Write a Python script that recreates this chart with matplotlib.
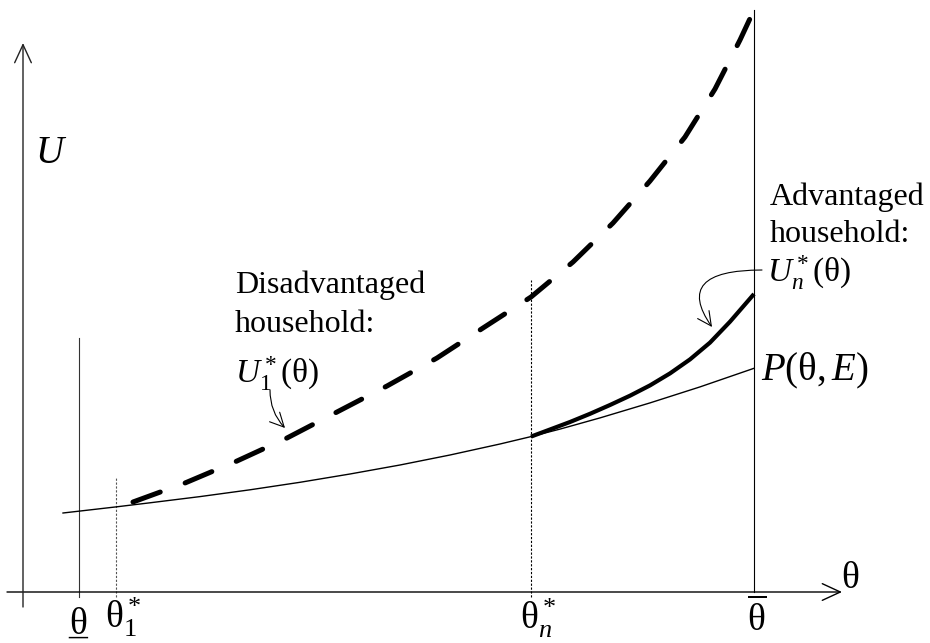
import matplotlib
matplotlib.use('Agg')
import matplotlib.pyplot as plt

plt.rcParams['font.family'] = 'Liberation Serif'
plt.rcParams['mathtext.fontset'] = 'custom'
plt.rcParams['mathtext.rm'] = 'Liberation Serif'
plt.rcParams['mathtext.it'] = 'Liberation Serif:italic'
plt.rcParams['mathtext.bf'] = 'Liberation Serif:bold'

# P(theta, E) - thin line
theta_P = [0.40, 0.93, 1.27, 1.77, 2.27, 2.77, 3.27, 3.77, 4.27, 4.77,
           5.08, 5.37, 5.77, 6.27, 6.77, 7.31]
U_P = [0.79, 0.851, 0.892, 0.954, 1.022, 1.097, 1.180, 1.270, 1.370, 1.480,
       1.554, 1.629, 1.741, 1.891, 2.051, 2.237]

# advantaged household U_n*(theta) - thick solid
theta_n = [5.08, 5.27, 5.47, 5.67, 5.87, 6.07, 6.27, 6.47, 6.67, 6.87,
           7.07, 7.31]
U_n = [1.554, 1.625, 1.70, 1.782, 1.87, 1.963, 2.066, 2.186, 2.326, 2.494,
       2.703, 2.98]

# disadvantaged household U_1*(theta) - thick dashed
theta_1 = [1.10, 1.62, 2.14, 2.64, 3.14, 3.64, 4.14, 4.60, 5.08, 5.50,
           5.90, 6.27, 6.62, 6.92, 7.17, 7.31]
U_1 = [0.90, 1.09, 1.31, 1.54, 1.80, 2.06, 2.34, 2.64, 2.95, 3.30,
       3.69, 4.11, 4.55, 5.03, 5.52, 5.82]

# positions on the theta axis
theta_lo, theta_1s, theta_ns, theta_hi = 0.56, 0.93, 5.08, 7.31

fig = plt.figure(figsize=(9.3, 6.43), dpi=100)
ax = fig.add_axes([0, 0, 1, 1])
ax.set_xlim(-0.23, 9.07)
ax.set_ylim(-0.51, 5.92)
ax.axis('off')

# axes with open arrow heads
head = '->,head_length=1.3,head_width=0.6'
ax.annotate('', xy=(8.19, 0), xytext=(-0.16, 0),
            arrowprops=dict(arrowstyle=head, lw=1.0, color='black',
                            shrinkA=0, shrinkB=0, mutation_scale=10))
ax.annotate('', xy=(0, 5.49), xytext=(0, -0.15),
            arrowprops=dict(arrowstyle=head, lw=1.0, color='#222222',
                            shrinkA=0, shrinkB=0, mutation_scale=10))

# vertical markers
ax.plot([theta_lo, theta_lo], [-0.05, 2.54], color='#333333', lw=0.8)
ax.plot([theta_1s, theta_1s], [-0.05, 1.15], color='#555555', lw=0.8,
        linestyle=(0, (2, 1.5)))
ax.plot([theta_ns, theta_ns], [-0.05, 3.12], color='black', lw=0.8,
        linestyle=(0, (2, 1.5)))
ax.plot([theta_hi, theta_hi], [0, U_1[-1]], color='black', lw=0.8)

# curves
ax.plot(theta_P, U_P, color='black', lw=1.0)
ax.plot(theta_n, U_n, color='black', lw=3.0, solid_capstyle='butt')
ax.plot(theta_1, U_1, color='black', lw=3.6, dashes=(5.8, 5.3),
        dash_capstyle='round')

# tick labels
ax.text(theta_lo - 0.01, -0.42, 'θ', ha='center', va='baseline', fontsize=27)
ax.text(theta_lo - 0.01, -0.42, '_', ha='center', va='baseline', fontsize=27)
ax.text(0.82, -0.36, r'$\mathrm{\theta}_1^*$', ha='left', va='baseline', fontsize=27)
ax.text(4.97, -0.37, r'$\mathrm{\theta}_n^*$', ha='left', va='baseline', fontsize=27)
ax.text(theta_hi + 0.03, -0.39, r'$\overline{\mathrm{\theta}}$', ha='center',
        va='baseline', fontsize=27)
ax.text(8.18, 0.04, 'θ', ha='left', va='baseline', fontsize=27)
ax.text(0.12, 4.29, r'$U$', ha='left', va='baseline', fontsize=28)

# annotations
ax.text(2.12, 2.99, 'Disadvantaged', ha='left', va='baseline', fontsize=23)
ax.text(2.12, 2.60, 'household:', ha='left', va='baseline', fontsize=23)
ax.text(2.12, 2.09, r'$U_1^*(\mathrm{\theta})$', ha='left', va='baseline', fontsize=24)

ax.text(7.47, 3.87, 'Advantaged', ha='left', va='baseline', fontsize=23)
ax.text(7.47, 3.50, 'household:', ha='left', va='baseline', fontsize=23)
ax.text(7.44, 3.10, r'$U_n^*(\mathrm{\theta})$', ha='left', va='baseline', fontsize=24)

ax.text(7.38, 2.12, r'$P(\mathrm{\theta},E)$', ha='left', va='baseline', fontsize=28)

small = '->,head_length=1.0,head_width=0.5'
ax.annotate('', xy=(2.62, 1.64), xytext=(2.47, 2.02),
            arrowprops=dict(arrowstyle=small, lw=0.8, color='black',
                            connectionstyle='arc3,rad=0.2',
                            shrinkA=0, shrinkB=0, mutation_scale=10))
ax.annotate('', xy=(6.89, 2.65), xytext=(7.39, 3.22),
            arrowprops=dict(arrowstyle=small, lw=0.8, color='black',
                            connectionstyle='angle3,angleA=0,angleB=125',
                            shrinkA=0, shrinkB=0, mutation_scale=10))

fig.savefig('out.png', dpi=100)
